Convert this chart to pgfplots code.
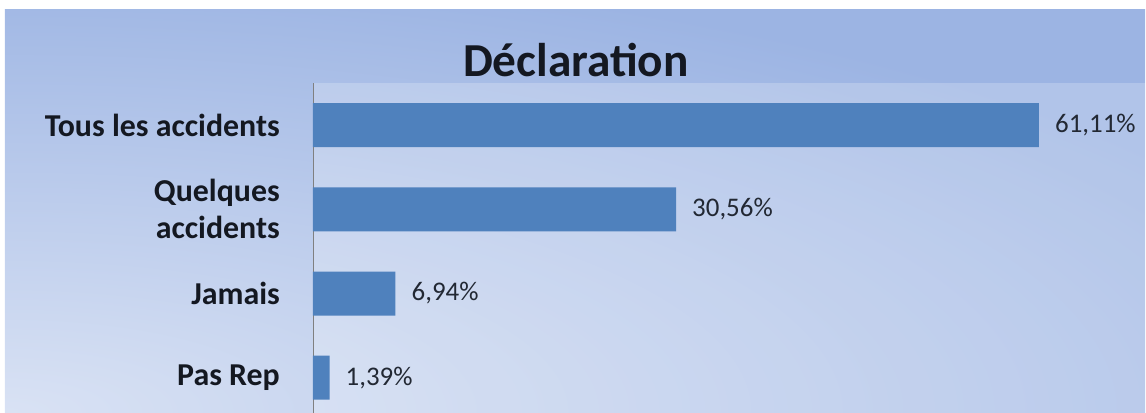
\documentclass[border=0pt]{standalone}
\usepackage{fontspec}
\setmainfont{Carlito}
\usepackage{pgfplots}
\pgfplotsset{compat=1.18}
\usetikzlibrary{backgrounds,calc}
\definecolor{barblue}{HTML}{4F81BD}
\definecolor{bginner}{HTML}{D9E2F4}
\definecolor{bgouter}{HTML}{9CB4E3}
\definecolor{txt}{HTML}{141821}
\definecolor{valtxt}{HTML}{222833}
\begin{document}
\begin{tikzpicture}[x=1bp,y=1bp]
\begin{axis}[
  scale only axis, width=833bp, height=336.8bp,
  xmin=0, xmax=70.12, ymin=-0.5, ymax=3.5,
  xbar, bar width=44bp,
  axis x line=none, axis y line*=left,
  y axis line style={draw=black!50, line width=0.8pt},
  axis background/.style={fill=white, fill opacity=0.22},
  ytick={0,1,2,3},
  yticklabels={Pas Rep, Jamais, {Quelques\\accidents}, Tous les accidents},
  major tick length=0pt,
  yticklabel style={font=\fontsize{32}{37}\selectfont\bfseries, text=txt, align=right, inner sep=0pt, xshift=-33bp},
  point meta=x,
  nodes near coords={\pgfmathprintnumber[fixed, fixed zerofill, precision=2, use comma, assume math mode=true]{\pgfplotspointmeta}\%},
  nodes near coords style={anchor=west, font=\fontsize{27}{31}\selectfont, text=valtxt, inner sep=0pt, xshift=16bp},
  clip=false,
]
\addplot[fill=barblue, draw=none] coordinates {(1.39,0) (6.94,1) (30.56,2) (61.11,3)};
\coordinate (O) at (rel axis cs:0,0);
\end{axis}
\pgfresetboundingbox
\begin{scope}[shift={($(O)+(-313,7.8)$)}]
  \useasboundingbox (0,0) rectangle (1146,412);
  \begin{scope}[on background layer]
    \clip (5,0) rectangle (1145,402);
    \shade[inner color=bginner, outer color=bgouter] (-1395,-450) rectangle (1405,450);
  \end{scope}
  \node[anchor=base, font=\fontsize{47.5}{52}\selectfont\bfseries, text=txt, inner sep=0pt] at (576,336) {Déclaration};
\end{scope}
\end{tikzpicture}
\end{document}
